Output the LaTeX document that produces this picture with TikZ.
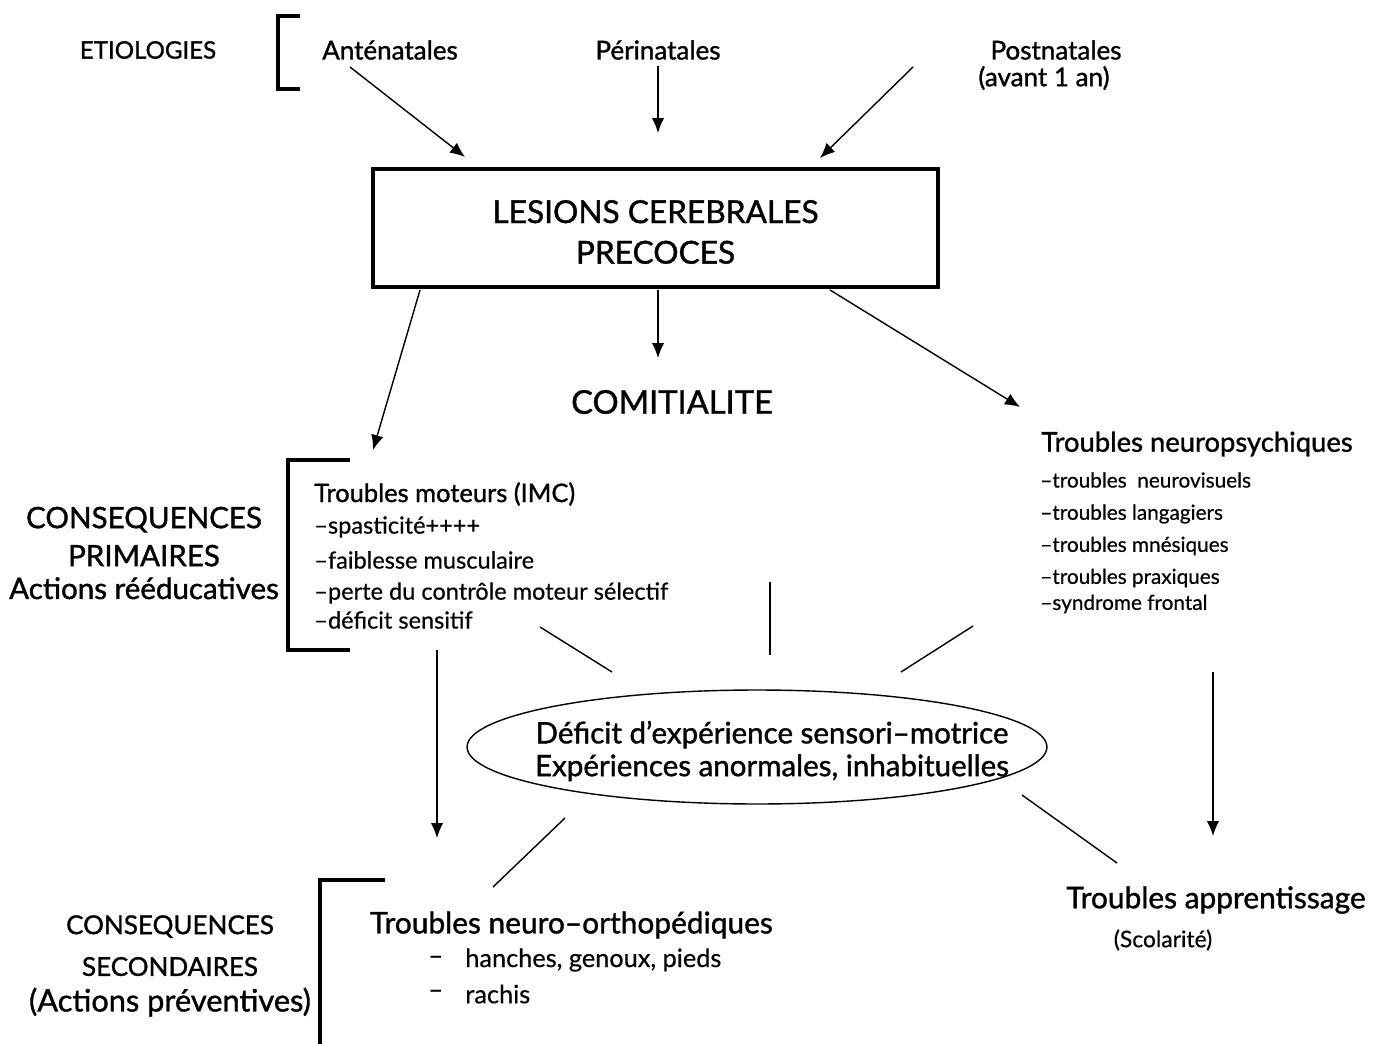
\documentclass[tikz,border=0pt]{standalone}
\usepackage{fontspec}
\setmainfont{Lato}
\newfontfamily\headfont[FakeBold=1.2]{Lato}
\newfontfamily\itemfont[FakeBold=0.5]{Lato}
\usetikzlibrary{positioning,shapes.geometric,arrows.meta}

\newcommand{\fs}[1]{\fontsize{#1}{\dimexpr #1pt*6/5\relax}\selectfont}

\begin{document}
\begin{tikzpicture}[x=0.02cm,y=-0.02cm,
	head/.style={font=\headfont\fs{#1}, align=center},
	item/.style={font=\itemfont\fs{#1}, anchor=west, inner sep=0pt},
	fleche/.style={-{Latex[length=3mm,width=2.5mm]}, line width=0.8pt},
	trait/.style={line width=0.8pt},
	crochet/.style={line width=1.8pt}]
	\useasboundingbox (0,0) rectangle (1386,1044);
	
	% etiologies
	\node[head=13.7] (etio) at (148,50) {ETIOLOGIES};
	\draw[crochet] (300,16) -- (278,16) -- (278,89) -- (300,89);
	\node[head=14.8] (ante) at (390,50) {Anténatales};
	\node[head=14.8] (peri) at (658,50) {Périnatales};
	\node[head=14.8] (post) at (1056,50) {Postnatales};
	\node[head=14.8] (postb) at (1044,78) {(avant 1 an)};
	
	% lesions
	\node[draw, line width=1.8pt, minimum width=565*0.02cm, minimum height=118*0.02cm, head=18] (les) at (655.5,228) {};
	\node[head=18] (lest) at (655.5,232) {LESIONS CEREBRALES\\[1.5pt]PRECOCES};
	
	\coordinate (a1) at (350,67);  \coordinate (b1) at (465,157);
	\coordinate (a2) at (658,66);  \coordinate (b2) at (658,133);
	\coordinate (a3) at (913,67);  \coordinate (b3) at (820,158);
	\draw[fleche] (a1)--(b1);
	\draw[fleche] (a2)--(b2);
	\draw[fleche] (a3)--(b3);
	
	\node[head=18.6] (comi) at (672,402) {COMITIALITE};
	
	\coordinate (c1) at (420,290); \coordinate (d1) at (373,450);
	\coordinate (c2) at (658,290); \coordinate (d2) at (658,358);
	\coordinate (c3) at (830,290); \coordinate (d3) at (1020,407);
	\draw[fleche] (c1)--(d1);
	\draw[fleche] (c2)--(d2);
	\draw[fleche] (c3)--(d3);
	
	% consequences primaires
	\node[head=16.8] (prim) at (144,553) {CONSEQUENCES\\[1.5pt]PRIMAIRES\\[-1.5pt]Actions rééducatives};
	\draw[crochet] (350,460) -- (288,460) -- (288,650) -- (350,650);
	\node[head=14.5, anchor=west] (mot) at (308,494) {Troubles moteurs (IMC)};
	\node[item=13.4] (m1) at (314,527) {–spasticité++++};
	\node[item=13.4] (m2) at (314,560) {–faiblesse musculaire};
	\node[item=13.4] (m3) at (314,593) {–perte du contrôle moteur sélectif};
	\node[item=13.4] (m4) at (314,620) {–déficit sensitif};
	
	\node[head=15.6] (neuro) at (1197,444) {Troubles neuropsychiques};
	\node[item=11.8] (n1) at (1040,480) {–troubles\ \ neurovisuels};
	\node[item=11.8] (n2) at (1040,514) {–troubles langagiers};
	\node[item=11.8] (n3) at (1040,546) {–troubles mnésiques};
	\node[item=11.8] (n4) at (1040,578) {–troubles praxiques};
	\node[item=11.8] (n5) at (1040,604) {–syndrome frontal};
	
	% deficit
	\node[head=16.8] (exp) at (772,751) {Déficit d’expérience sensori–motrice\\[-1.5pt]Expériences anormales, inhabituelles};
	\draw[line width=0.8pt] (757,747) ellipse [x radius=5.8cm, y radius=1.14cm];
	
	\coordinate (e1) at (540,627); \coordinate (f1) at (612,672);
	\coordinate (e2) at (770,582); \coordinate (f2) at (770,655);
	\coordinate (e3) at (973,626); \coordinate (f3) at (901,672);
	\draw[trait] (e1)--(f1);
	\draw[trait] (e2)--(f2);
	\draw[trait] (e3)--(f3);
	
	\coordinate (g1) at (437,650); \coordinate (h1) at (437,838);
	\coordinate (g2) at (1213,672); \coordinate (h2) at (1213,836);
	\draw[fleche] (g1)--(h1);
	\draw[fleche] (g2)--(h2);
	
	\coordinate (k1) at (565,818); \coordinate (l1) at (493,887);
	\coordinate (k2) at (1022,795); \coordinate (l2) at (1117,863);
	\draw[trait] (k1)--(l1);
	\draw[trait] (k2)--(l2);
	
	% consequences secondaires
	\node[head=14.8] (sec) at (170,966) {CONSEQUENCES\\[6pt]SECONDAIRES\\[2.5pt]\fs{17.5}(Actions préventives)};
	\draw[crochet] (385,880) -- (320,880) -- (320,1044);
	\node[head=17, anchor=west] (ortho) at (364,925) {Troubles neuro–orthopédiques};
	\node[item=14.4] (o1) at (428,960) {–};
	\node[item=14.4] (o1t) at (465,960) {hanches, genoux, pieds};
	\node[item=14.4] (o2) at (428,994) {–};
	\node[item=14.4] (o2t) at (465,994) {rachis};
	
	\node[head=17] (app) at (1216,900) {Troubles apprentissage};
	\node[item=13, anchor=center] (scol) at (1163,940) {(Scolarité)};
\end{tikzpicture}
\end{document}
